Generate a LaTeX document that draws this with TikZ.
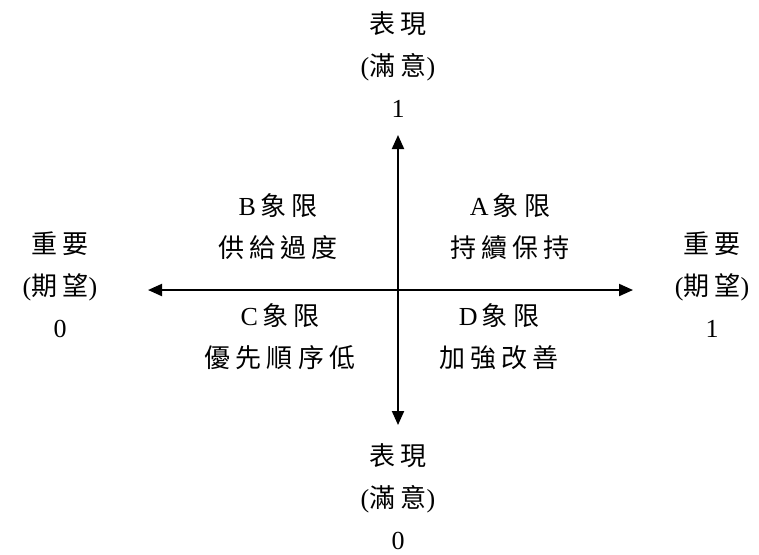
\documentclass[tikz,border=0pt]{standalone}
\usepackage{fontspec}
\setmainfont{Liberation Serif}
\newfontfamily\cjk[LetterSpace=20]{Noto Sans CJK TC}
\usetikzlibrary{arrows.meta}

\tikzset{
  axis/.style={line width=1pt,{Triangle[length=7pt,width=6pt]}-{Triangle[length=7pt,width=6pt]}},
  lab/.style={align=center,inner sep=0pt,font=\fontsize{13}{21}\selectfont}
}

\begin{document}
\begin{tikzpicture}[x=0.5pt,y=-0.5pt]
    \useasboundingbox (0,0) rectangle (759,554);

    % Axes
    \coordinate (ytop) at (398,135);
    \coordinate (ybot) at (398,425);
    \coordinate (xlft) at (148,290);
    \coordinate (xrgt) at (633,290);
    \draw[axis] (ybot) -- (ytop);
    \draw[axis] (xlft) -- (xrgt);

    % Axis labels
    \node[lab] (perfhi) at (398,65) {{\cjk 表現}\\({\cjk 滿意})\\1};
    \node[lab] (perflo) at (398,497) {{\cjk 表現}\\({\cjk 滿意})\\0};
    \node[lab] (implo) at (60,285) {{\cjk 重要}\\({\cjk 期望})\\0};
    \node[lab] (imphi) at (712,285) {{\cjk 重要}\\({\cjk 期望})\\1};

    % Quadrants
    \node[lab] (quadB) at (278,227) {B\,{\cjk 象限}\\{\cjk 供給過度}};
    \node[lab] (quadA) at (510,227) {A\,{\cjk 象限}\\{\cjk 持續保持}};
    \node[lab] (quadC) at (280,337) {C\,{\cjk 象限}\\{\cjk 優先順序低}};
    \node[lab] (quadD) at (499,337) {D\,{\cjk 象限}\\{\cjk 加強改善}};
\end{tikzpicture}
\end{document}
